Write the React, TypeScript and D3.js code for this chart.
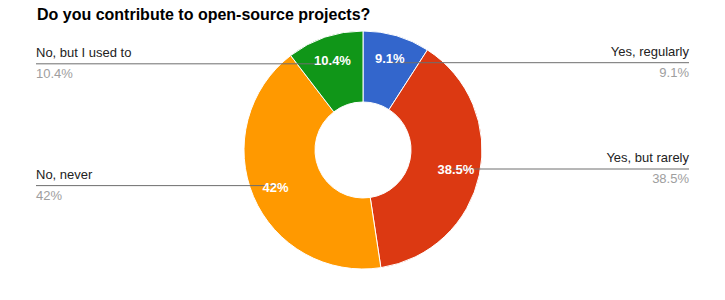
import React from "react";
import * as d3 from "d3";

const categories = ["Yes, regularly", "Yes, but rarely", "No, never", "No, but I used to"];
const values = [9.1, 38.5, 42, 10.4];
const pctLabels = ["9.1%", "38.5%", "42%", "10.4%"];
const colors = ["#3366cc", "#dc3912", "#ff9900", "#109618"];
const title = "Do you contribute to open-source projects?";

const W = 725;
const H = 300;
const cx = 363;
const cy = 150;
const rOuter = 119;
const rInner = 48;
const rAnchor = 91;
const rLabel = 95;
const leftX = 36;
const rightX = 689;
const font = "Arial, 'Liberation Sans', sans-serif";

export default function App() {
  const pie = d3.pie<number>().sort(null).value((d) => d)(values);
  const arc = d3.arc<d3.PieArcDatum<number>>().innerRadius(rInner).outerRadius(rOuter);
  const anchorArc = d3.arc<d3.PieArcDatum<number>>().innerRadius(rAnchor).outerRadius(rAnchor);
  const labelArc = d3.arc<d3.PieArcDatum<number>>().innerRadius(rLabel).outerRadius(rLabel);

  return (
    <>
      <style>{"body{margin:0}"}</style>
      <svg width={W} height={H} style={{ display: "block", fontFamily: font }}>
        <rect width={W} height={H} fill="#ffffff" />
        <text x={37} y={20} fontSize={16} fontWeight="bold" fill="#000">
          {title}
        </text>
        <g transform={`translate(${cx},${cy})`}>
          {pie.map((p, i) => (
            <path key={i} d={arc(p) || ""} fill={colors[i]} stroke="#ffffff" strokeWidth={1} />
          ))}
        </g>
        {pie.map((p, i) => {
          const [ax, ay] = anchorArc.centroid(p);
          const px = cx + ax;
          const py = cy + ay;
          const right = ax > 0;
          const lx = right ? rightX : leftX;
          return (
            <g key={"l" + i}>
              <line x1={lx} x2={px} y1={py} y2={py} stroke="#6e6e6e" strokeWidth={1} />
              <text
                x={lx}
                y={py - 7}
                fontSize={13}
                fill="#222222"
                textAnchor={right ? "end" : "start"}
              >
                {categories[i]}
              </text>
              <text
                x={lx}
                y={py + 14}
                fontSize={13}
                fill="#9e9e9e"
                textAnchor={right ? "end" : "start"}
              >
                {pctLabels[i]}
              </text>
            </g>
          );
        })}
        {pie.map((p, i) => {
          const [ax, ay] = labelArc.centroid(p);
          return (
            <text
              key={"p" + i}
              x={cx + ax}
              y={cy + ay}
              dy="0.35em"
              fontSize={13}
              fontWeight="bold"
              fill="#ffffff"
              textAnchor="middle"
            >
              {pctLabels[i]}
            </text>
          );
        })}
      </svg>
    </>
  );
}
